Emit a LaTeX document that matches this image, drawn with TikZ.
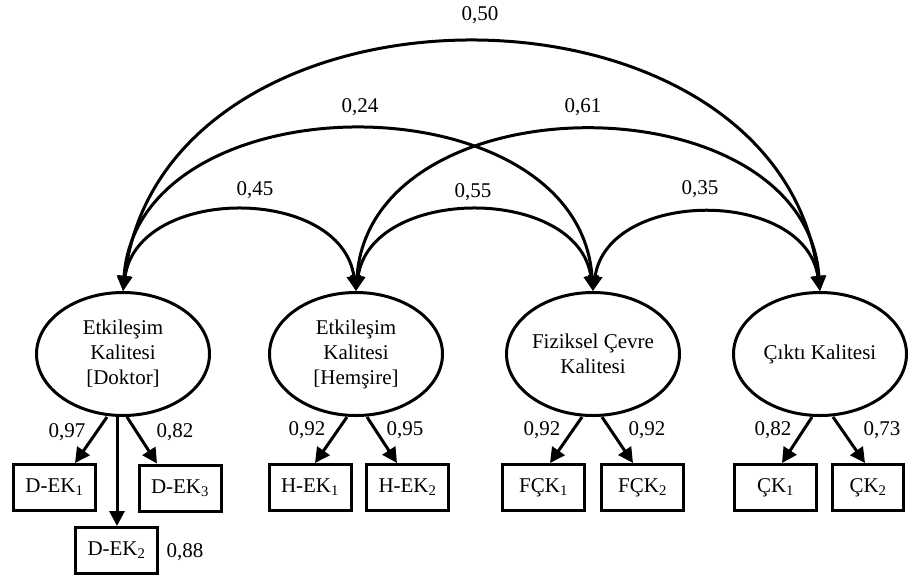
\documentclass[tikz,border=0pt]{standalone}
\usepackage{fontspec}
\setmainfont{Liberation Serif}
\usetikzlibrary{arrows.meta,shapes.geometric,calc}
\tikzset{
  latent/.style={ellipse, draw, line width=3pt, minimum width=173pt, minimum height=123pt, inner sep=0pt, align=center, font=\fontsize{21}{25}\selectfont},
  observed/.style={rectangle, draw, line width=3pt, minimum width=82pt, minimum height=46pt, inner sep=0pt, font=\fontsize{21}{25}\selectfont},
  coef/.style={inner sep=0pt, font=\fontsize{21}{25}\selectfont},
  corr/.style={line width=3pt, {Triangle[length=15pt,width=14pt]}-{Triangle[length=15pt,width=14pt]}},
  load/.style={line width=3pt, -{Triangle[length=15pt,width=15pt]}}
}
\begin{document}
\begin{tikzpicture}[x=1pt,y=-1pt]
\useasboundingbox (0,0) rectangle (909,579);
% latent variables
\node[latent] (e1) at (123,354) {Etkileşim\\Kalitesi\\{[}Doktor{]}};
\node[latent] (e2) at (356,354) {Etkileşim\\Kalitesi\\{[}Hemşire{]}};
\node[latent] (e3) at (593,354) {Fiziksel Çevre\\Kalitesi};
\node[latent] (e4) at (820,354) {Çıktı Kalitesi};
% observed variables
\node[observed] (dek1) at (54.5,487.5) {D-EK\textsubscript{1}};
\node[observed] (dek3) at (180,488) {D-EK\textsubscript{3}};
\node[observed] (dek2) at (116.5,550.5) {D-EK\textsubscript{2}};
\node[observed] (hek1) at (310,487.5) {H-EK\textsubscript{1}};
\node[observed] (hek2) at (407.5,487.5) {H-EK\textsubscript{2}};
\node[observed] (fck1) at (543.5,487.5) {FÇK\textsubscript{1}};
\node[observed] (fck2) at (642.5,487.5) {FÇK\textsubscript{2}};
\node[observed] (ck1) at (775.5,487.5) {ÇK\textsubscript{1}};
\node[observed, minimum width=71pt] (ck2) at (868,487.5) {ÇK\textsubscript{2}};
% correlations
\draw[corr] (e1.north) .. controls +(15,-106) and +(-15,-106) .. (e2.north);
\draw[corr] (e2.north) .. controls +(15,-106) and +(-15,-106) .. (e3.north);
\draw[corr] (e3.north) .. controls +(15,-103) and +(-15,-103) .. (e4.north);
\draw[corr] (e1.north) .. controls +(15,-214) and +(-15,-214) .. (e3.north);
\draw[corr] (e2.north) .. controls +(15,-213) and +(-15,-213) .. (e4.north);
\draw[corr] (e1.north) .. controls +(40,-330) and +(-40,-330) .. (e4.north);
\node[coef] (c45) at (255,190) {0,45};
\node[coef] (c55) at (473,192) {0,55};
\node[coef] (c35) at (700,189) {0,35};
\node[coef] (c24) at (360,107) {0,24};
\node[coef] (c61) at (583,107) {0,61};
\node[coef] (c50) at (480,15) {0,50};
% loadings
\draw[load] ($(e1.south)+(-16,0)$) -- ($(dek1.north)+(20.5,0)$);
\draw[load] ($(e1.south)+(4,0)$) -- ($(dek3.north)+(-23,0)$);
\draw[load] ($(e1.south)+(-6,0)$) -- ($(dek2.north)+(0.5,0)$);
\draw[load] ($(e2.south)+(-9,0)$) -- ($(hek1.north)+(5,0)$);
\draw[load] ($(e2.south)+(11,0)$) -- ($(hek2.north)+(-10.5,0)$);
\draw[load] ($(e3.south)+(-11,0)$) -- ($(fck1.north)+(6.5,0)$);
\draw[load] ($(e3.south)+(9,0)$) -- ($(fck2.north)+(-9.5,0)$);
\draw[load] ($(e4.south)+(-8,0)$) -- ($(ck1.north)+(6.5,0)$);
\draw[load] ($(e4.south)+(13,0)$) -- ($(ck2.north)+(-3,0)$);
\node[coef] (l1) at (67,432) {0,97};
\node[coef] (l3) at (175,432) {0,82};
\node[coef] (l2) at (185,552) {0,88};
\node[coef] (l4) at (307,430) {0,92};
\node[coef] (l5) at (405,430) {0,95};
\node[coef] (l6) at (542,430) {0,92};
\node[coef] (l7) at (647,430) {0,92};
\node[coef] (l8) at (773,430) {0,82};
\node[coef] (l9) at (882,430) {0,73};
\end{tikzpicture}
\end{document}
